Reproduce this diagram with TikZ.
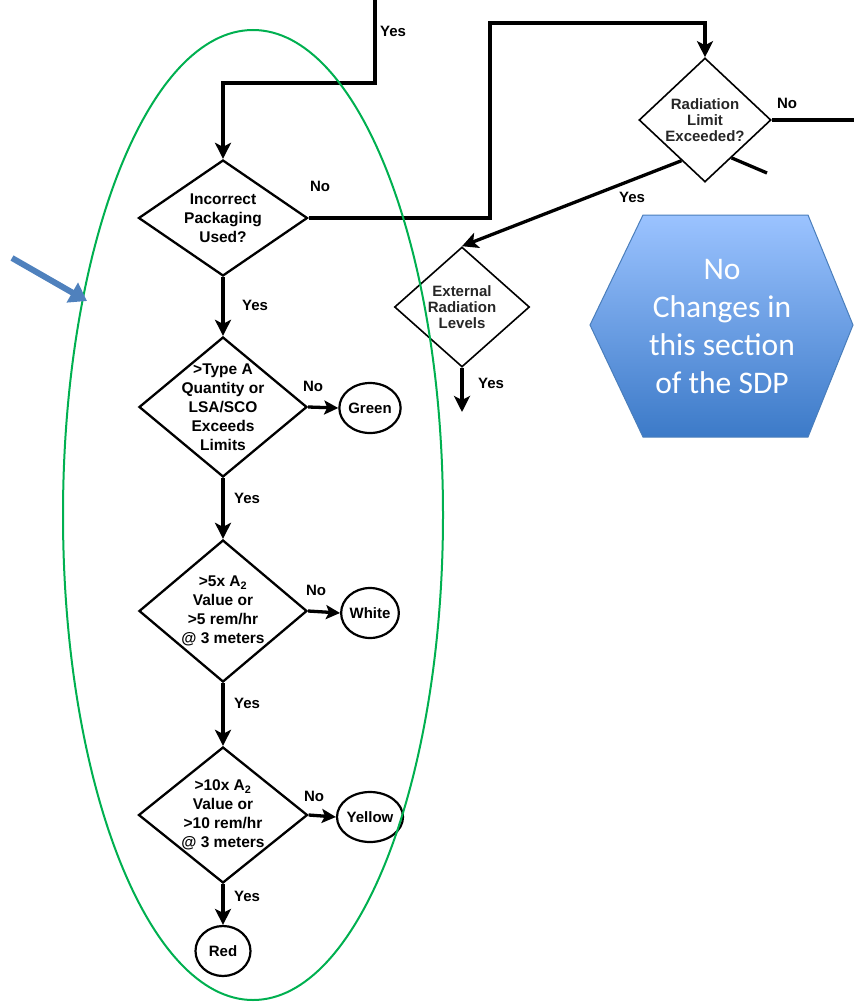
\documentclass[tikz,border=0pt]{standalone}
\usepackage{fontspec}
\setmainfont{Liberation Sans}
\newfontfamily\calibri{Carlito}
\usetikzlibrary{arrows.meta,shapes.geometric}
\definecolor{ringgreen}{RGB}{0,176,80}
\definecolor{pointerblue}{RGB}{79,129,189}
\definecolor{hextop}{RGB}{155,195,255}
\definecolor{hexbot}{RGB}{60,122,200}
\definecolor{hexedge}{RGB}{74,126,187}
\begin{document}
\begin{tikzpicture}[x=1pt,y=-1pt,
  flow/.style={line width=3.3pt},
  arr/.style={flow,-{Stealth[length=16pt,width=16pt,inset=4pt]}},
  sidearr/.style={flow,-{Stealth[length=14pt,width=14pt,inset=3pt]}},
  dia/.style={draw,shape=diamond,inner sep=0pt,line width=2.3pt},
  thindia/.style={dia,line width=1.6pt},
  dtext/.style={align=center,font=\bfseries\fontsize{15.5}{19}\selectfont},
  stext/.style={align=center,font=\bfseries\fontsize{15}{16}\selectfont,text=black!85},
  term/.style={draw,ellipse,line width=2.2pt,minimum width=55pt,minimum height=50pt,inner sep=0pt,font=\bfseries\fontsize{15}{17}\selectfont},
  lbl/.style={font=\bfseries\fontsize{15}{16}\selectfont}]
\useasboundingbox (0,0) rectangle (854,1003);

% decision diamonds
\node[dia,minimum width=169pt,minimum height=116pt] (d1) at (223,218) {};
\node[dtext] (d1t) at (d1.center) {Incorrect\\Packaging\\Used?};
\node[thindia,minimum width=132pt,minimum height=124pt] (d2) at (705,120) {};
\node[stext] (d2t) at (d2.center) {Radiation\\Limit\\Exceeded?};
\node[thindia,minimum width=135pt,minimum height=120pt] (ext) at (462,307) {};
\node[stext] (extt) at (ext.center) {External\\Radiation\\Levels};
\node[dia,minimum width=168pt,minimum height=140pt] (d3) at (223,407) {};
\node[dtext] (d3t) at (d3.center) {>Type A\\Quantity or\\LSA/SCO\\Exceeds\\Limits};
\node[dia,minimum width=168pt,minimum height=142pt] (d4) at (223,611) {};
\node[dtext] (d4t) at (d4.center) {>5x A\textsubscript{2}\\Value or\\>5 rem/hr\\@ 3 meters};
\node[dia,minimum width=169pt,minimum height=136pt] (d5) at (223,815) {};
\node[dtext] (d5t) at (d5.center) {>10x A\textsubscript{2}\\Value or\\>10 rem/hr\\@ 3 meters};

% label terminals
\node[term] (green) at (370,408) {Green};
\node[term] (white) at (370,613) {White};
\node[term] (yellow) at (370,817) {Yellow};
\node[term] (red) at (223,951) {Red};

% connectors
\coordinate (feedA) at (375,0);
\coordinate (bendA) at (375,83);
\draw[arr] (feedA) -- (bendA) -| (d1.north);
\coordinate (bendB) at (490,23);
\draw[arr] (d1.east) -| (bendB) -| (d2.north);
\coordinate (exitR) at (854,120);
\draw[flow] (d2.east) -- (exitR);
\coordinate (stubEnd) at (767,173);
\draw[flow] (d2.305) -- (stubEnd);
\draw[arr] (d2.240) -- (ext.north);
\coordinate (extOut) at (462,412);
\draw[arr] (ext.south) -- (extOut);
\draw[arr] (d1.south) -- (d3.north);
\draw[arr] (d3.south) -- (d4.north);
\draw[arr] (d4.south) -- (d5.north);
\draw[arr] (d5.south) -- (red.north);
\draw[sidearr] (d3.east) -- (green.west);
\draw[sidearr] (d4.east) -- (white.west);
\draw[sidearr] (d5.east) -- (yellow.west);

% branch labels
\node[lbl] (yTop) at (393,31) {Yes};
\node[lbl] (n1) at (320,186) {No};
\node[lbl] (y1) at (255,305) {Yes};
\node[lbl] (n3) at (313,386) {No};
\node[lbl] (y3) at (247,498) {Yes};
\node[lbl] (n4) at (316,590) {No};
\node[lbl] (y4) at (247,703) {Yes};
\node[lbl] (n5) at (314,796) {No};
\node[lbl] (y5) at (247,896) {Yes};
\node[lbl] (n2) at (787,103) {No};
\node[lbl] (y2) at (632,197) {Yes};
\node[lbl] (yExt) at (491,383) {Yes};

% highlighted column
\draw[ringgreen,line width=2pt] (253,515) ellipse [x radius=190pt,y radius=485pt];

% pointer
\coordinate (ptail) at (12,258);
\coordinate (ptip) at (87,301);
\draw[pointerblue,line width=6pt,-{Triangle[length=17pt,width=22pt]}] (ptail) -- (ptip);

% note hexagon
\path[draw=hexedge,line width=1pt,top color=hextop,bottom color=hexbot]
  (643,215) -- (808,215) -- (853,325) -- (808,437) -- (643,437) -- (590,325) -- cycle;
\node[text=white,align=center,font=\calibri\fontsize{31.5}{38}\selectfont] (note) at (722,327)
  {No\\Changes in\\this section\\of the SDP};
\end{tikzpicture}
\end{document}
